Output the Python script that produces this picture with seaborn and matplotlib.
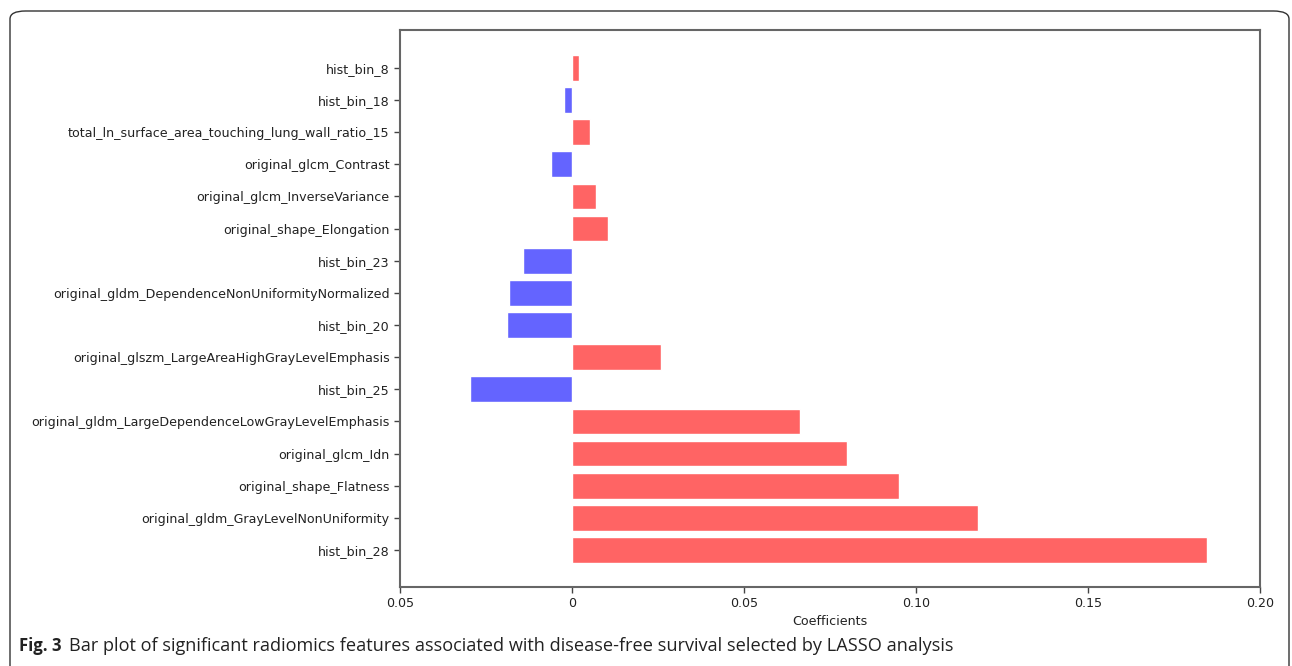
import matplotlib
matplotlib.use("Agg")
import matplotlib.pyplot as plt
from matplotlib.patches import FancyBboxPatch
import seaborn as sns
import pandas as pd

features = [
    "hist_bin_8",
    "hist_bin_18",
    "total_ln_surface_area_touching_lung_wall_ratio_15",
    "original_glcm_Contrast",
    "original_glcm_InverseVariance",
    "original_shape_Elongation",
    "hist_bin_23",
    "original_gldm_DependenceNonUniformityNormalized",
    "hist_bin_20",
    "original_glszm_LargeAreaHighGrayLevelEmphasis",
    "hist_bin_25",
    "original_gldm_LargeDependenceLowGrayLevelEmphasis",
    "original_glcm_Idn",
    "original_shape_Flatness",
    "original_gldm_GrayLevelNonUniformity",
    "hist_bin_28",
]
coefficients = [0.0020, -0.0023, 0.0053, -0.0061, 0.0069, 0.0106, -0.0142, -0.0184,
                -0.0188, 0.0258, -0.0296, 0.0663, 0.0799, 0.0952, 0.1181, 0.1847]
xtick_values = [-0.05, 0.0, 0.05, 0.10, 0.15, 0.20]
xtick_labels = ["0.05", "0", "0.05", "0.10", "0.15", "0.20"]
caption_bold = "Fig. 3"
caption_text = "Bar plot of significant radiomics features associated with disease-free survival selected by LASSO analysis"

df = pd.DataFrame({"feature": features, "coef": coefficients})
df["sign"] = ["pos" if c > 0 else "neg" for c in coefficients]

sns.set_style("white")
plt.rcParams["font.family"] = ["DejaVu Sans"]

fig = plt.figure(figsize=(12.92, 6.66), dpi=100)
ax = fig.add_axes([400 / 1292, 1 - 587 / 666, 860 / 1292, (587 - 30) / 666])

sns.barplot(data=df, y="feature", x="coef", hue="sign", orient="h",
            palette={"pos": "#ff6464", "neg": "#6464ff"}, dodge=False,
            width=0.8, legend=False, ax=ax, saturation=1)

ax.set_xlim(-0.05, 0.20)
ax.set_ylim(16.15, -1.18)
ax.set_xticks(xtick_values)
ax.set_xticklabels(xtick_labels, fontsize=9.1, color="#222222")
ax.tick_params(axis="y", labelsize=9.1, labelcolor="#222222")
ax.tick_params(axis="both", which="major", length=4, width=1, color="#444444",
               direction="out", bottom=True, left=True)
ax.set_ylabel("")
ax.set_xlabel("Coefficients", fontsize=9.1, color="#222222", labelpad=3)
for s in ax.spines.values():
    s.set_color("#666666")
    s.set_linewidth(1.5)

# outer rounded frame
frame = FancyBboxPatch((10 / 1292, -0.05), (1289 - 10) / 1292, (666 - 11) / 666 + 0.05,
                       boxstyle="round,pad=0,rounding_size=0.012",
                       transform=fig.transFigure, fill=False,
                       edgecolor="#333333", linewidth=1.0, clip_on=False)
fig.patches.append(frame)

fig.text(19 / 1292, 1 - 646 / 666, caption_bold, fontsize=12, fontweight="bold",
         family="Open Sans", va="center", ha="left", color="#222222")
fig.text(69 / 1292, 1 - 646 / 666, caption_text, fontsize=13.1,
         family="Open Sans", va="center", ha="left", color="#222222")

fig.savefig("out.png", dpi=100)
